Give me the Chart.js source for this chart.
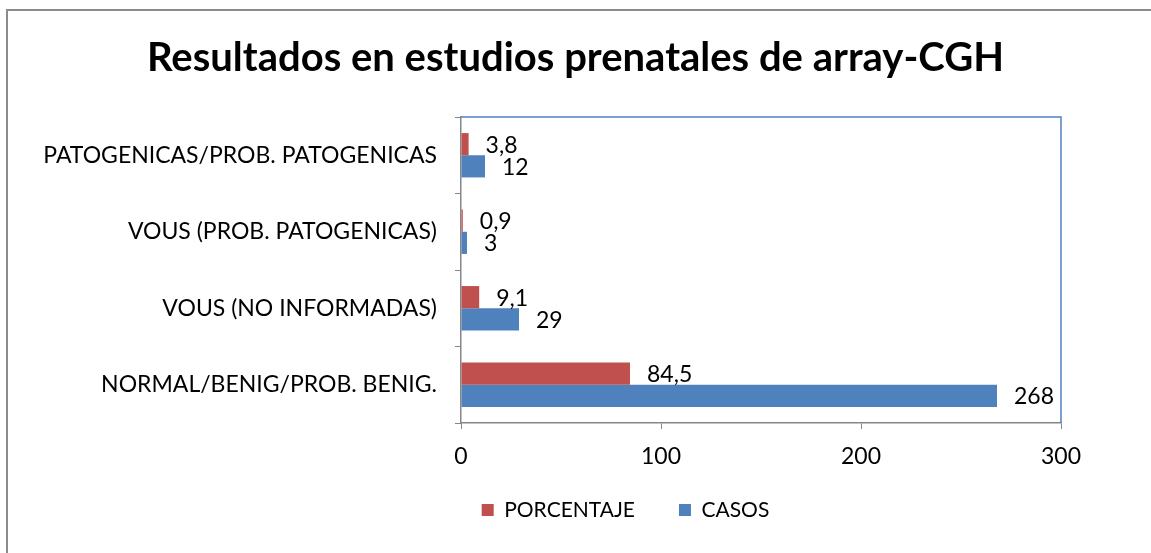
<!DOCTYPE html>
<html>
<head>
<meta charset="utf-8">
<script src="https://cdn.jsdelivr.net/npm/chart.js@4/dist/chart.umd.min.js"></script>
<style>
  html, body { margin: 0; padding: 0; background: #fff; }
  #wrap { position: relative; width: 1151px; height: 553px; }
</style>
</head>
<body>
<div id="wrap"><canvas id="myChart" width="1151" height="553"></canvas></div>
<script>
"use strict";
// categories, top to bottom as shown
const categorias = [
    "PATOGENICAS/PROB. PATOGENICAS",
    "VOUS (PROB. PATOGENICAS)",
    "VOUS (NO INFORMADAS)",
    "NORMAL/BENIG/PROB. BENIG."
];
const porcentaje = [3.8, 0.9, 9.1, 84.5];
const casos = [12, 3, 29, 268];
const xTicks = [0, 100, 200, 300];

const fuente = "Lato, 'Open Sans', sans-serif";
const gris = '#868686';

// outer frame + blue top/right border of the plot area
const marco = {
    id: 'marco',
    beforeDraw(chart) {
        const c = chart.ctx;
        c.save();
        c.fillStyle = '#fff';
        c.fillRect(0, 0, chart.width, chart.height);
        c.strokeStyle = '#8c8c8c';
        c.lineWidth = 2;
        c.beginPath();
        c.moveTo(7, chart.height);
        c.lineTo(7, 10);
        c.lineTo(chart.width, 10);
        c.stroke();
        c.restore();
    },
    afterLayout(chart) {
        // legend sits a bit right of centre in the original
        const lg = chart.legend;
        lg.left += 50;
        lg.right += 50;
        lg.top -= 13.5;
        lg.bottom -= 13.5;
    },
    afterDraw(chart) {
        const a = chart.chartArea;
        const c = chart.ctx;
        c.save();
        c.strokeStyle = '#4f81bd';
        c.lineWidth = 1.5;
        c.beginPath();
        c.moveTo(a.left, a.top);
        c.lineTo(a.right, a.top);
        c.lineTo(a.right, a.bottom);
        c.stroke();
        c.restore();
    }
};

// value labels at the end of each bar, decimal comma
const etiquetas = {
    id: 'etiquetas',
    afterDatasetsDraw(chart) {
        const c = chart.ctx;
        c.save();
        c.font = "23px " + fuente;
        c.fillStyle = '#000';
        c.textAlign = 'left';
        c.textBaseline = 'middle';
        chart.data.datasets.forEach((ds, i) => {
            chart.getDatasetMeta(i).data.forEach((bar, j) => {
                const txt = String(ds.data[j]).replace('.', ',');
                c.fillText(txt, bar.x + 17, bar.y + 1);
            });
        });
        c.restore();
    }
};

let myChart = document.getElementById("myChart").getContext('2d');
let grafico = new Chart(myChart, {
    type: 'bar',
    data: {
        labels: categorias,
        datasets: [{
            label: 'PORCENTAJE',
            data: porcentaje,
            backgroundColor: '#c0504d',
            categoryPercentage: 0.58,
            barPercentage: 1
        }, {
            label: 'CASOS',
            data: casos,
            backgroundColor: '#4f81bd',
            categoryPercentage: 0.58,
            barPercentage: 1
        }]
    },
    options: {
        indexAxis: 'y',
        responsive: false,
        animation: false,
        layout: {
            padding: { top: 12, left: 0, right: 0, bottom: 22.5 }
        },
        plugins: {
            title: {
                display: true,
                text: 'Resultados en estudios prenatales de array-CGH',
                color: '#000',
                font: { family: fuente, size: 40, weight: 'bold', lineHeight: 1.2 },
                padding: { top: 22, bottom: 35 }
            },
            legend: {
                display: true,
                position: 'bottom',
                maxHeight: 61.5,
                labels: {
                    color: '#000',
                    font: { family: fuente, size: 21 },
                    boxWidth: 12,
                    boxHeight: 12,
                    padding: 44
                }
            },
            tooltip: { enabled: false }
        },
        scales: {
            x: {
                min: 0,
                max: 300,
                afterBuildTicks(scale) {
                    scale.ticks = xTicks.map(v => ({ value: v }));
                },
                afterFit(scale) { scale.height = 46; },
                grid: {
                    drawOnChartArea: false,
                    drawTicks: true,
                    tickLength: 6,
                    color: gris
                },
                border: { color: gris, width: 1.5 },
                ticks: {
                    color: '#000',
                    padding: 14,
                    font: { family: fuente, size: 23 }
                }
            },
            y: {
                afterFit(scale) { scale.width = 461; },
                grid: {
                    offset: true,
                    drawOnChartArea: false,
                    drawTicks: true,
                    tickLength: 6,
                    color: gris
                },
                border: { color: gris, width: 1.5 },
                ticks: {
                    color: '#000',
                    padding: 18,
                    font: { family: fuente, size: 23 }
                }
            },
            // empty strip on the right, keeps the plot where Excel put it
            derecha: {
                type: 'category',
                position: 'right',
                afterFit(scale) { scale.width = 90; },
                grid: { display: false },
                border: { display: false },
                ticks: { display: false }
            }
        }
    },
    plugins: [marco, etiquetas]
});
</script>
</body>
</html>
